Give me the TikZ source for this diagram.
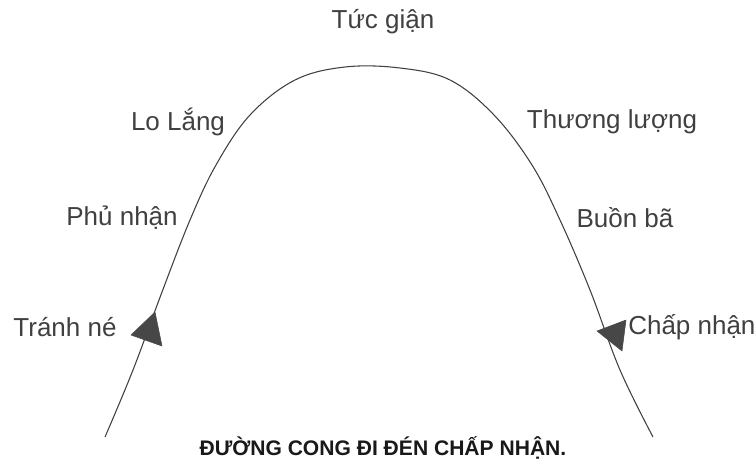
\documentclass[tikz,border=0pt]{standalone}
\usepackage{fontspec}
\setmainfont{Liberation Sans}
\begin{document}
\begin{tikzpicture}[x=0.75pt,y=-0.75pt,
  lbl/.style={font=\fontsize{19.5}{22}\selectfont, text=black!75, inner sep=0pt},
  ttl/.style={font=\bfseries\fontsize{15.8}{18}\selectfont, text=black!90, inner sep=0pt},
  curve/.style={draw=black!75, line width=0.8pt},
  tri/.style={fill=black!72, draw=black!72, line join=round}]
\useasboundingbox (0,0) rectangle (756,472);
\coordinate (s) at (105,437);
\coordinate (e) at (653,437);
\draw[curve] plot[smooth, tension=0.6] coordinates {(105,437) (133,370) (162,292) (190,220) (216,165) (250,115) (295,80) (345,67) (400,68) (450,80) (494,115) (532,165) (560,220) (590,290) (620,370) (653,437)};
\path[tri] (155,312) -- (131,335) -- (162,346) -- cycle;
\path[tri] (626,320) -- (597,331) -- (622,351) -- cycle;
\node[lbl] (tuc) at (383,22) {Tức giận};
\node[lbl] (lo) at (178,122) {Lo Lắng};
\node[lbl] (thuong) at (612,122) {Thương lượng};
\node[lbl] (phu) at (122,218) {Phủ nhận};
\node[lbl] (buon) at (625,218) {Buồn bã};
\node[lbl] (tranh) at (65,327) {Tránh né};
\node[lbl, anchor=west] (chap) at (628,327) {Chấp nhận};
\node[ttl] (title) at (383,448) {ĐƯỜNG CONG ĐI ĐÉN CHẤP NHẬN.};
\end{tikzpicture}
\end{document}
